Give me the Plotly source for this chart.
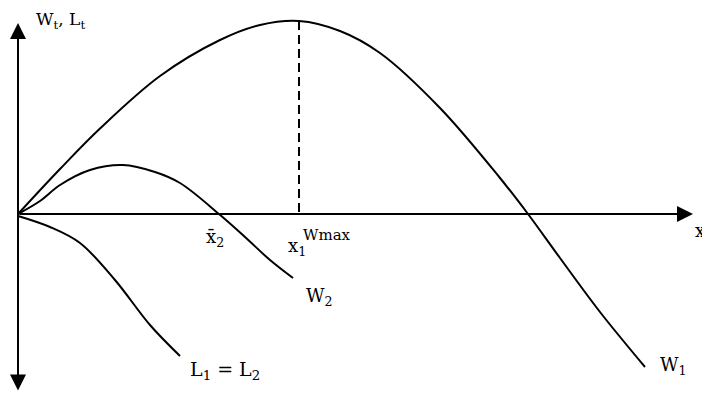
import plotly.graph_objects as go

# Data (abstract units; origin at axes crossing)
w1_x = [0, 0.42, 0.82, 1.42, 2.02, 2.42, 2.81, 3.22, 3.62, 4.22, 4.82, 5.10, 5.42, 5.82, 6.27]
w1_y = [0, 0.45, 0.855, 1.38, 1.74, 1.89, 1.93, 1.83, 1.61, 1.06, 0.36, 0, -0.44, -0.98, -1.53]

w2_x = [0, 0.22, 0.42, 0.72, 1.05, 1.37, 1.62, 2.01, 2.27, 2.52, 2.75]
w2_y = [0, 0.13, 0.29, 0.44, 0.49, 0.42, 0.31, 0, -0.23, -0.46, -0.64]

l_x = [0, 0.32, 0.62, 0.97, 1.32, 1.62]
l_y = [-0.02, -0.13, -0.29, -0.66, -1.11, -1.42]

x_wmax = 2.81
w_max = 1.93

FONT = "DejaVu Serif"
FS = 18

fig = go.Figure()
line = dict(color="black", width=2, shape="spline", smoothing=1.0)
fig.add_trace(go.Scatter(x=w1_x, y=w1_y, mode="lines", line=line, hoverinfo="skip"))
fig.add_trace(go.Scatter(x=w2_x, y=w2_y, mode="lines", line=line, hoverinfo="skip"))
fig.add_trace(go.Scatter(x=l_x, y=l_y, mode="lines", line=line, hoverinfo="skip"))
fig.add_trace(go.Scatter(x=[x_wmax, x_wmax], y=[w_max, 0], mode="lines",
                         line=dict(color="black", width=2, dash="9px,5px"), hoverinfo="skip"))

anns = []
# axes with arrowheads
anns.append(dict(x=6.75, y=0, ax=0, ay=0, axref="x", ayref="y", xref="x", yref="y",
                 text="", showarrow=True, arrowhead=2, arrowsize=1.6, arrowwidth=2,
                 arrowcolor="black"))
anns.append(dict(x=0, y=1.91, ax=0, ay=-1.78, axref="x", ayref="y", xref="x", yref="y",
                 text="", showarrow=True, arrowhead=2, arrowsize=1.6, arrowwidth=2,
                 arrowside="end+start", arrowcolor="black"))

def lab(x, y, t, size=FS, xa="left"):
    anns.append(dict(x=x, y=y, xref="x", yref="y", text=t, showarrow=False,
                     xanchor=xa, yanchor="middle", font=dict(family=FONT, size=size, color="black")))

lab(0.16, 1.94, "W<sub>t</sub>, L<sub>t</sub>", size=17)
lab(6.75, -0.18, "x<sub>1</sub>")
lab(1.86, -0.24, "x\u0304<sub>2</sub>")
lab(2.68, -0.33, "x<sub>1</sub>")
lab(2.83, -0.21, "Wmax", size=15)
lab(2.86, -0.83, "W<sub>2</sub>")
lab(1.70, -1.56, "L<sub>1</sub> = L<sub>2</sub>", size=19)
lab(6.40, -1.52, "W<sub>1</sub>")

# The page body adds an 8px offset; ranges are chosen so marks land at the reference positions.
fig.update_layout(
    width=710, height=393, margin=dict(l=0, r=0, t=0, b=0),
    paper_bgcolor="white", plot_bgcolor="white", showlegend=False,
    xaxis=dict(range=[-0.10, 7.00], visible=False, fixedrange=True),
    yaxis=dict(range=[-1.87, 2.06], visible=False, fixedrange=True),
    annotations=anns,
)
fig.write_html("out.html")
